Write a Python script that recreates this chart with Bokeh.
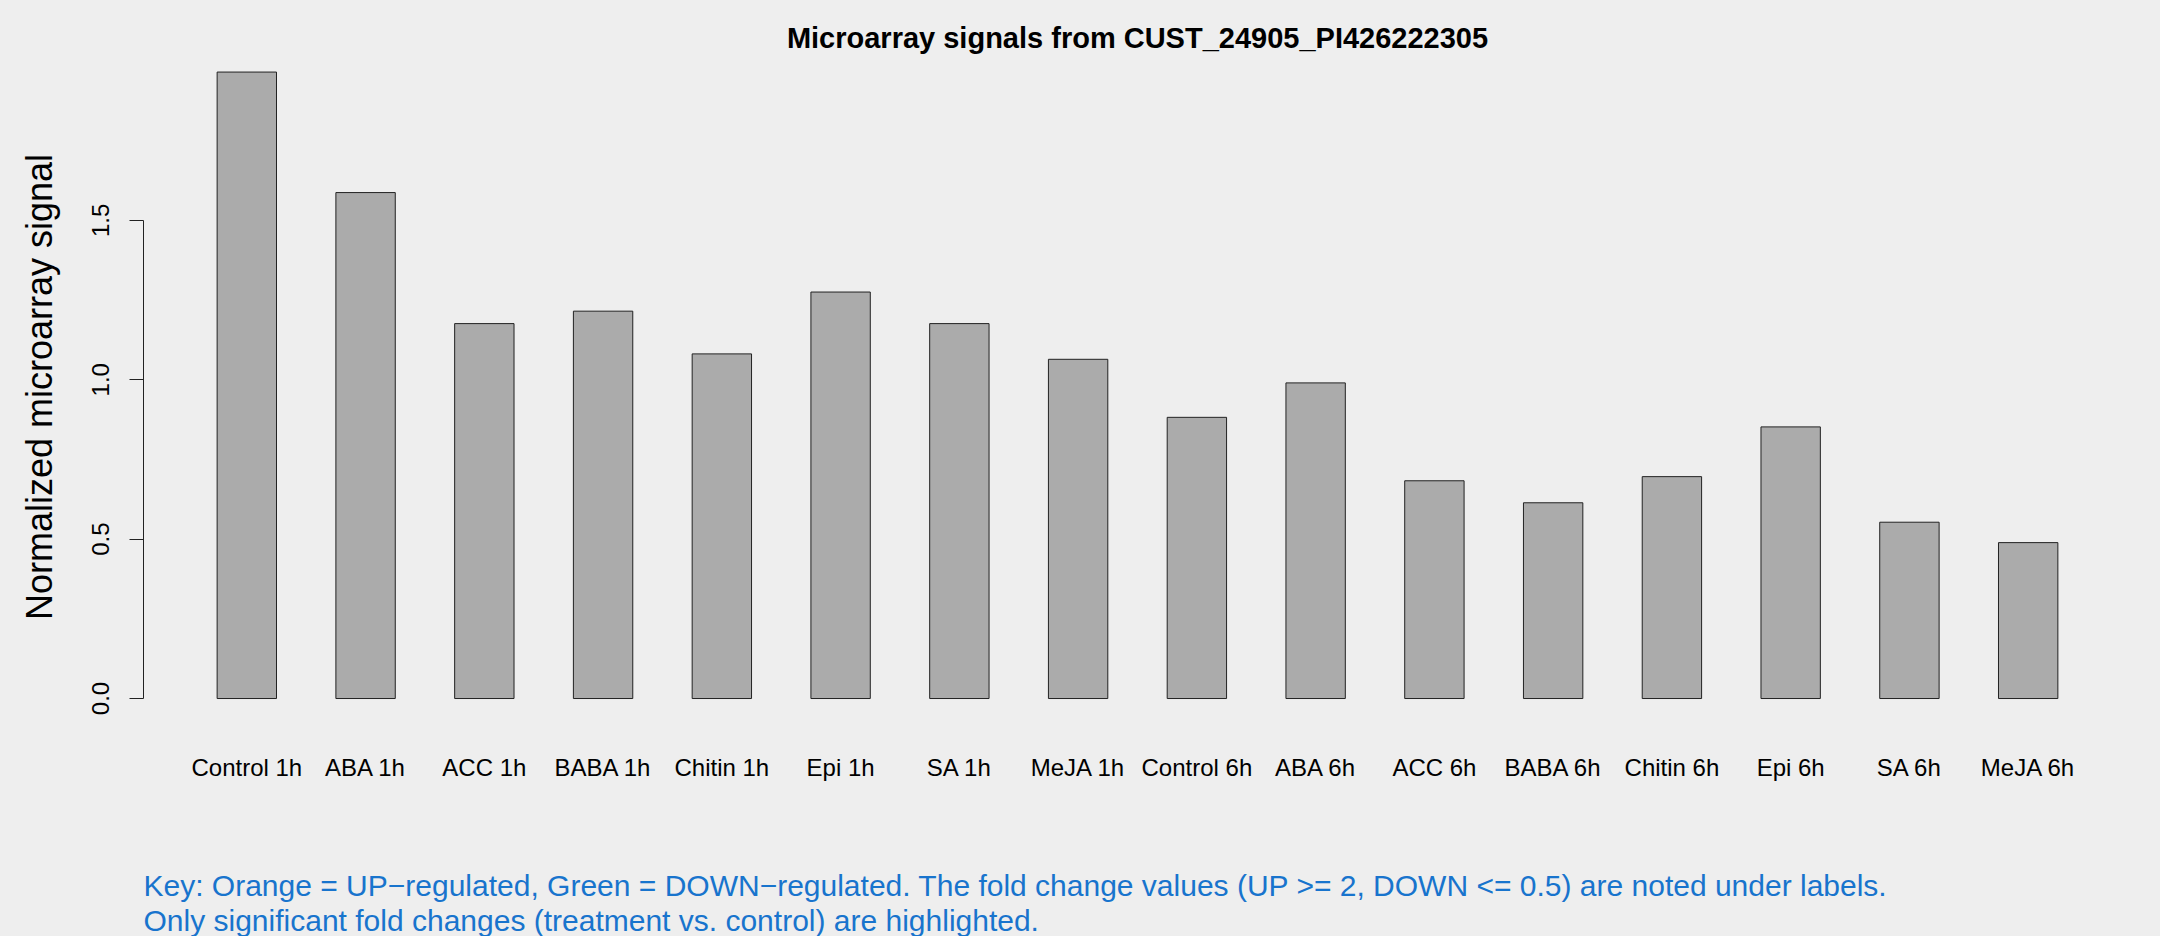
from bokeh.plotting import figure
from bokeh.models import LinearAxis, FixedTicker, Title, PrintfTickFormatter, Range1d
from bokeh.embed import file_html
from bokeh.resources import INLINE

# ---- data ----
categories = ["Control 1h", "ABA 1h", "ACC 1h", "BABA 1h", "Chitin 1h", "Epi 1h", "SA 1h", "MeJA 1h",
              "Control 6h", "ABA 6h", "ACC 6h", "BABA 6h", "Chitin 6h", "Epi 6h", "SA 6h", "MeJA 6h"]
signal = [1.965, 1.587, 1.176, 1.215, 1.081, 1.275, 1.176, 1.064,
          0.882, 0.990, 0.683, 0.614, 0.696, 0.852, 0.553, 0.489]
y_ticks = [0.0, 0.5, 1.0, 1.5]
title_text = "Microarray signals from CUST_24905_PI426222305"
y_label = "Normalized microarray signal"
key_line1 = ("Key: Orange = UP\u2212regulated, Green = DOWN\u2212regulated. The fold change values "
             "(UP >= 2, DOWN <= 0.5) are noted under labels.")
key_line2 = "Only significant fold changes (treatment vs. control) are highlighted."

# barplot-style positions: bar i spans [2i+1, 2i+2]
xpos = [2 * i + 1.5 for i in range(len(categories))]

FONT = "Liberation Sans"
BG = "#EEEEEE"

p = figure(width=2160, height=936,
           x_range=Range1d(-0.24, 33.24), y_range=Range1d(-0.03445, 1.98872),
           x_axis_location=None, y_axis_location=None,
           output_backend="svg", toolbar_location=None,
           min_border_left=143, min_border_right=29, min_border_top=64, min_border_bottom=226,
           background_fill_color=BG, border_fill_color=BG, outline_line_color=None)
p.xgrid.visible = False
p.ygrid.visible = False

p.title.text = title_text
p.title.text_font = FONT
p.title.text_font_size = "29px"
p.title.text_font_style = "bold"
p.title.align = "center"
p.title.text_color = "black"
p.title.standoff = 21

p.vbar(x=xpos, top=signal, bottom=0, width=1.0,
       fill_color="#ABABAB", line_color="#222222", line_width=1)

# y axis
yax = LinearAxis(ticker=FixedTicker(ticks=y_ticks), formatter=PrintfTickFormatter(format="%.1f"),
                 bounds=(0, 1.5))
yax.axis_line_color = "#222222"
yax.major_tick_line_color = "#222222"
yax.major_tick_out = 14
yax.major_tick_in = 0
yax.minor_tick_line_color = None
yax.major_label_orientation = "vertical"
yax.major_label_text_font = FONT
yax.major_label_text_font_size = "24px"
yax.major_label_text_color = "black"
yax.major_label_standoff = 20
yax.axis_label = y_label
yax.axis_label_text_font = FONT
yax.axis_label_text_font_size = "36px"
yax.axis_label_text_font_style = "normal"
yax.axis_label_text_color = "black"
yax.axis_label_standoff = 30
p.add_layout(yax, "left")

# x axis (labels only); a blank axis label acts as spacing before the key
xax = LinearAxis(ticker=FixedTicker(ticks=xpos),
                 major_label_overrides={x: c for x, c in zip(xpos, categories)})
xax.axis_line_color = None
xax.major_tick_line_color = None
xax.minor_tick_line_color = None
xax.major_label_text_font = FONT
xax.major_label_text_font_size = "24px"
xax.major_label_text_color = "black"
xax.major_label_standoff = 38
xax.axis_label = " "
xax.axis_label_text_font_size = "1px"
xax.axis_label_standoff = 79
p.add_layout(xax, "below")

t1 = Title(text=key_line1, align="left", text_font=FONT, text_font_size="30px",
           text_font_style="normal", text_color="#1874CD", standoff=0)
t2 = Title(text=key_line2, align="left", text_font=FONT, text_font_size="30px",
           text_font_style="normal", text_color="#1874CD", standoff=0)
p.add_layout(t1, "below")
p.add_layout(t2, "below")

html = file_html(p, INLINE, title="Microarray signals")
html = html.replace("</head>", "<style>html, body {background-color: #EEEEEE;}</style>\n</head>", 1)
open("out.html", "w").write(html)
